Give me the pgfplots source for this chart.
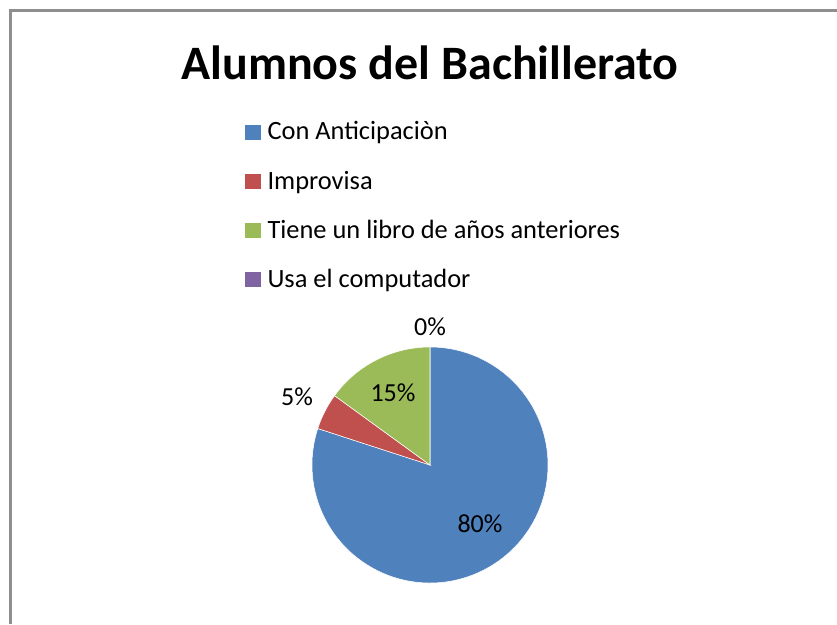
\documentclass[border=0pt]{standalone}
\usepackage{fontspec}
\setmainfont{Carlito}
\usepackage{pgfplots}
\usepackage{pgfplotstable}
\pgfplotsset{compat=1.18}

\definecolor{pieblue}{HTML}{4F81BD}
\definecolor{piered}{HTML}{C0504D}
\definecolor{piegreen}{HTML}{9BBB59}
\definecolor{piepurple}{HTML}{8064A2}
\definecolor{framegray}{HTML}{8E8E8E}

% shares in percent
\pgfplotstableread{
value
80
5
15
0
}\piedata

% wedge angles, clockwise from the top
\pgfplotstablegetelem{0}{value}\of\piedata \pgfmathsetmacro\aA{90-3.6*\pgfplotsretval}
\pgfplotstablegetelem{1}{value}\of\piedata \pgfmathsetmacro\aB{\aA-3.6*\pgfplotsretval}
\pgfplotstablegetelem{2}{value}\of\piedata \pgfmathsetmacro\aC{\aB-3.6*\pgfplotsretval}
\pgfplotstablegetelem{3}{value}\of\piedata \pgfmathsetmacro\aD{\aC-3.6*\pgfplotsretval}

\pgfplotsset{
  sq/.style={legend image code/.code={\fill[#1] (0pt,-5.25pt) rectangle (11pt,5.25pt); \path (14.5pt,0pt);}},
}

\begin{document}
\begin{tikzpicture}
\begin{axis}[
  scale only axis,
  width=627.75pt, height=468pt,
  xmin=0, xmax=837, ymin=0, ymax=624,
  enlargelimits=false,
  hide axis, clip=false,
  legend style={
    at={(axis cs:245,505)}, anchor=north west,
    draw=none, fill=none, inner sep=0pt, outer sep=0pt,
    font=\fontsize{19.8}{23}\selectfont,
    row sep=17.7pt,
    cells={anchor=west},
  },
]
\coordinate (bl) at (axis cs:0,0);
\coordinate (tr) at (axis cs:837,624);
% frame
\draw[framegray, line width=1.6pt] (axis cs:10.5,0) -- (axis cs:10.5,613.5) -- (axis cs:837,613.5);
% title
\node[font=\fontsize{36}{43}\selectfont\bfseries] at (axis cs:430,561) {Alumnos del Bachillerato};
% legend
\addlegendimage{sq=pieblue}
\addlegendentry{Con Anticipaciòn}
\addlegendimage{sq=piered}
\addlegendentry{Improvisa}
\addlegendimage{sq=piegreen}
\addlegendentry{Tiene un libro de años anteriores}
\addlegendimage{sq=piepurple}
\addlegendentry{Usa el computador}
% wedges
\fill[pieblue, draw=white, line width=0.4pt] (axis cs:430,159) -- ++(\aA:88.5pt) arc[start angle=\aA, end angle=90, radius=88.5pt] -- cycle;
\fill[piered, draw=white, line width=0.4pt] (axis cs:430,159) -- ++(\aB:88.5pt) arc[start angle=\aB, end angle=\aA, radius=88.5pt] -- cycle;
\fill[piegreen, draw=white, line width=0.4pt] (axis cs:430,159) -- ++(\aC:88.5pt) arc[start angle=\aC, end angle=\aB, radius=88.5pt] -- cycle;
% labels
\node[font=\fontsize{19.5}{23}\selectfont] at (axis cs:480,100) {80\%};
\node[font=\fontsize{19.5}{23}\selectfont] at (axis cs:297,227) {5\%};
\node[font=\fontsize{19.5}{23}\selectfont] at (axis cs:393,231) {15\%};
\node[font=\fontsize{19.5}{23}\selectfont] at (axis cs:430,297) {0\%};
\end{axis}
\pgfresetboundingbox
\useasboundingbox (bl) rectangle (tr);
\end{tikzpicture}
\end{document}
